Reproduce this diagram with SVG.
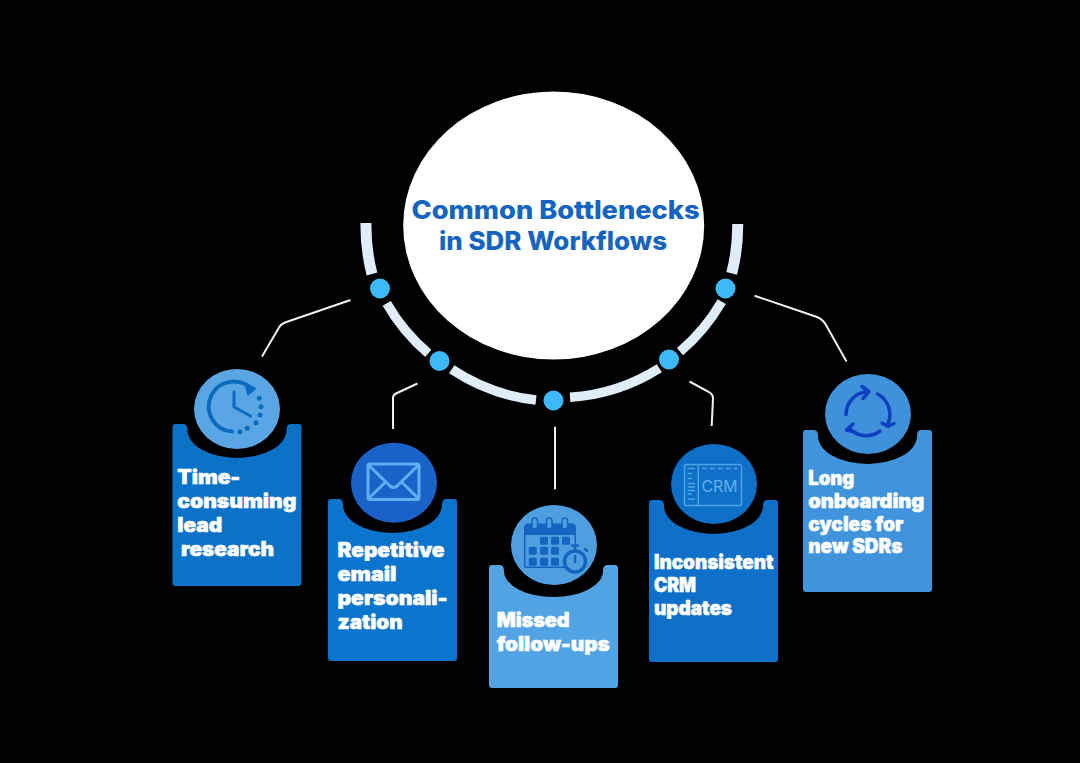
<svg xmlns="http://www.w3.org/2000/svg" width="1080" height="763" viewBox="0 0 1080 763">
<style>
.t{font-family:"Inter","Liberation Sans",sans-serif;font-weight:900;font-size:19.5px;fill:#fff;stroke:#fff;stroke-width:.5px}
.h{font-family:"Inter","Liberation Sans",sans-serif;font-weight:800;font-size:25.5px;fill:#1565c0}
.seg{fill:none;stroke:#e1ecf9;stroke-width:9.5}
.dot{fill:#3db9f7}
.con{fill:none;stroke:#f2f2f2;stroke-width:2}
.i{fill:none;stroke-linecap:round;stroke-linejoin:round}
</style>
<defs>
<path id="card" d="M3,0H11Q15,0 15,6A49.5,28 0 0 0 114,6Q114,0 118,0H126Q129,0 129,3V159Q129,162 126,162H3Q0,162 0,159V3Q0,0 3,0Z"/>
<path id="cardS" d="M3,0H11Q15,0 15,6A49.5,26 0 0 0 114,6Q114,0 118,0H126Q129,0 129,3V120Q129,123 126,123H3Q0,123 0,120V3Q0,0 3,0Z"/>
</defs>
<rect width="1080" height="763" fill="#000"/>
<g id="connectors">
<path class="con" d="M350.500,300L285,322.500Q281,324 279,327.500L262,356.500"/>
<path class="con" d="M417.500,383.500L396,393.500Q393,395 393,398V429"/>
<path class="con" d="M555,426.700V489.300"/>
<path class="con" d="M689.500,381.500L709,392Q713,394.500 713,398L711.700,426"/>
<path class="con" d="M754.500,295.700L817,317Q823,319.500 826,325L846.500,361.500"/>
</g>
<g id="center">
<ellipse cx="553.700" cy="225.500" rx="150.500" ry="134" fill="#fff"/>
<text class="h" x="411.500" y="218.500" textLength="288" lengthAdjust="spacingAndGlyphs">Common Bottlenecks</text>
<text class="h" x="439" y="250" textLength="228" lengthAdjust="spacingAndGlyphs">in SDR Workflows</text>
</g>
<g id="ring">
<path class="seg" style="stroke-width:11" d="M366,223A189.500,189.500 0 0 0 372,274"/>
<path class="seg" d="M386.700,303.300A189.500,189.500 0 0 0 428.300,353.300"/>
<path class="seg" d="M451.700,369.300A189.500,189.500 0 0 0 536,400"/>
<path class="seg" d="M570,397.300A189.500,189.500 0 0 0 659.300,368.300"/>
<path class="seg" d="M680,351.700A189.500,189.500 0 0 0 721.700,301.700"/>
<path class="seg" style="stroke-width:11" d="M731.700,273.300A189.500,189.500 0 0 0 737.700,224"/>
<circle class="dot" cx="380" cy="288.500" r="10"/>
<circle class="dot" cx="439.500" cy="361" r="10"/>
<circle class="dot" cx="553.500" cy="400.500" r="10"/>
<circle class="dot" cx="669" cy="359.500" r="10"/>
<circle class="dot" cx="725.500" cy="288.500" r="10"/>
</g>
<g id="node-research">
<use href="#card" x="172.500" y="424" fill="#0c72c8"/>
<ellipse cx="237" cy="409" rx="43" ry="40" fill="#5aa6e4"/>
<g class="i" stroke="#0b6cbf" stroke-width="4">
<path d="M252,389.500A25,25 0 1 0 232,431.500"/>
<path d="M234,392V407L250.500,416" stroke-width="3"/>
<path d="M245,383L255.500,388.500L248,395Z" fill="#0b6cbf" stroke-width="1.500"/>
</g>
<g fill="#0b6cbf">
<circle cx="259.300" cy="398.300" r="2.500"/><circle cx="261" cy="406.700" r="2.500"/><circle cx="260" cy="415" r="2.500"/><circle cx="256" cy="422.700" r="2.500"/><circle cx="247.300" cy="428.300" r="2.500"/><circle cx="240" cy="431.700" r="2.500"/>
</g>
<text class="t" x="177.300" y="484" textLength="63" lengthAdjust="spacingAndGlyphs">Time-</text>
<text class="t" x="177.300" y="508" textLength="119" lengthAdjust="spacingAndGlyphs">consuming</text>
<text class="t" x="177.300" y="532" textLength="45" lengthAdjust="spacingAndGlyphs">lead</text>
<text class="t" x="181" y="556" textLength="93" lengthAdjust="spacingAndGlyphs">research</text>
</g>
<g id="node-email">
<use href="#card" x="328" y="499" fill="#0b74cc"/>
<ellipse cx="394" cy="482.700" rx="43" ry="40" fill="#1a62c8"/>
<g class="i" stroke="#5fb0f0" stroke-width="3">
<rect x="368" y="464" width="51" height="35.500" rx="2"/>
<path d="M368.500,465L390,486Q393.500,489 397,486L418.500,465M368.500,498.500L384.500,483M418.500,498.500L402.500,483"/>
</g>
<text class="t" x="337.500" y="556.500" textLength="107" lengthAdjust="spacingAndGlyphs">Repetitive</text>
<text class="t" x="337.500" y="581" textLength="59" lengthAdjust="spacingAndGlyphs">email</text>
<text class="t" x="337.500" y="605" textLength="110" lengthAdjust="spacingAndGlyphs">personali-</text>
<text class="t" x="337.500" y="628.500" textLength="65" lengthAdjust="spacingAndGlyphs">zation</text>
</g>
<g id="node-followups">
<use href="#cardS" x="489" y="565" fill="#52a3e3"/>
<ellipse cx="554" cy="545" rx="43" ry="40" fill="#4f9fe0"/>
<g fill="#1565c0">
<path d="M524,528Q524,523.500 528,523.500H572Q576,523.500 576,528V535H524Z"/>
<path d="M524,535H525.500V566.500H570V568H526Q524,568 524,566Z"/>
<path d="M574.500,535H576V548H574.500Z"/>
<rect x="528.700" y="546.800" width="8" height="8" rx="1.500"/>
<rect x="540" y="536.800" width="8" height="8" rx="1.500"/><rect x="540" y="546.800" width="8" height="8" rx="1.500"/><rect x="540" y="557.800" width="8" height="8" rx="1.500"/>
<rect x="551" y="536.800" width="8" height="8" rx="1.500"/><rect x="551" y="546.800" width="8" height="8" rx="1.500"/><rect x="551" y="557.800" width="8" height="8" rx="1.500"/>
<rect x="562" y="536.800" width="8" height="8" rx="1.500"/>
<rect x="528.700" y="557.800" width="8" height="8" rx="1.500"/>
</g>
<g fill="#4f9fe0" stroke="#1565c0" stroke-width="1.500">
<rect x="532" y="518" width="5.500" height="11" rx="2.700"/><rect x="546.500" y="518" width="5.500" height="11" rx="2.700"/><rect x="562" y="518" width="5.500" height="11" rx="2.700"/>
</g>
<g class="i" stroke="#1565c0">
<circle cx="575" cy="561.500" r="10.500" fill="#4f9fe0" stroke-width="3.500"/>
<path d="M575,549V545.500M572,545.500H578M585,549L587,551M575,556V562" stroke-width="2.500"/>
</g>
<text class="t" x="496.700" y="626.700" textLength="73" lengthAdjust="spacingAndGlyphs">Missed</text>
<text class="t" x="496.700" y="650.700" textLength="113" lengthAdjust="spacingAndGlyphs">follow-ups</text>
</g>
<g id="node-crm">
<use href="#card" x="649" y="500" fill="#0e70c8"/>
<ellipse cx="714" cy="484" rx="43" ry="40" fill="#0d6fc6"/>
<g class="i" stroke="#4fa3e8" stroke-width="1.500">
<rect x="684.500" y="464.500" width="57" height="41" rx="2"/>
<path d="M698.300,464.500V505.500"/>
<path d="M687.500,468.500H695M687.500,473.500H692M687.500,478.500H692M687.500,483.500H695M687.500,487H695M687.500,490.500H695M687.500,494H692M687.500,499H695" stroke-linecap="butt"/>
<path d="M701.700,468.500H738" stroke-dasharray="5.500 2.500" stroke-linecap="butt"/>
</g>
<text x="701.500" y="491.500" textLength="36" lengthAdjust="spacingAndGlyphs" font-family="Inter, 'Liberation Sans', sans-serif" font-size="16" fill="#62b0ee">CRM</text>
<text class="t" x="654" y="569" textLength="119.500" lengthAdjust="spacingAndGlyphs">Inconsistent</text>
<text class="t" x="654" y="592" textLength="42" lengthAdjust="spacingAndGlyphs">CRM</text>
<text class="t" x="654" y="615" textLength="78" lengthAdjust="spacingAndGlyphs">updates</text>
</g>
<g id="node-onboarding">
<use href="#card" x="803" y="430" fill="#4094dc"/>
<ellipse cx="868" cy="414" rx="43" ry="40" fill="#3f91db"/>
<g class="i" stroke="#0d3fbf" stroke-width="3.500">
<path d="M846,414.500A23,23 0 0 1 868.500,391.500M862,386.500L869,391.500L863,398.500"/>
<path d="M877.500,394A23,23 0 0 1 887.500,424.500M882,423L888,426.500L894,423.500"/>
<path d="M880,431A23,23 0 0 1 849,428M853,424L846.500,430L855,432"/>
</g>
<text class="t" x="808.300" y="485" textLength="46" lengthAdjust="spacingAndGlyphs">Long</text>
<text class="t" x="808.300" y="508" textLength="116" lengthAdjust="spacingAndGlyphs">onboarding</text>
<text class="t" x="808.300" y="530.700" textLength="95" lengthAdjust="spacingAndGlyphs">cycles for</text>
<text class="t" x="808.300" y="553" textLength="94" lengthAdjust="spacingAndGlyphs">new SDRs</text>
</g>
</svg>
